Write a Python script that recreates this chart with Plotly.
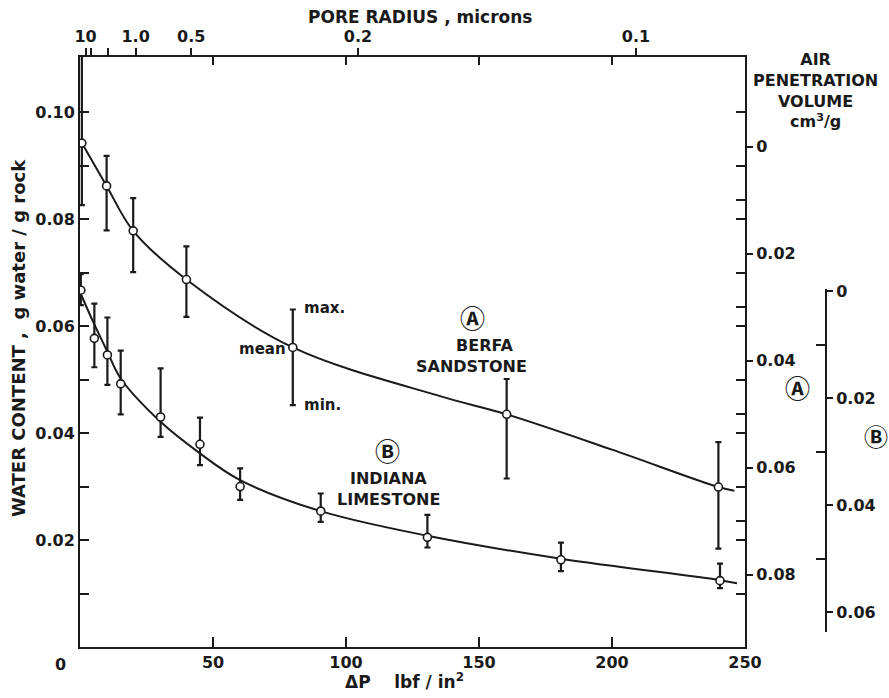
import plotly.graph_objects as go

# ---------------- data ----------------
# Berea sandstone (A): pressure difference, mean / max / min water content
dp_A = [0.7, 10, 20, 40, 80, 160.4, 240]
mean_A = [0.0942, 0.0862, 0.0778, 0.0687, 0.0560, 0.0435, 0.0299]
max_A = [0.1180, 0.0918, 0.0839, 0.0749, 0.0631, 0.0501, 0.0383]
min_A = [0.0826, 0.0779, 0.0701, 0.0617, 0.0452, 0.0315, 0.0184]

# Indiana limestone (B)
dp_B = [0.3, 5.4, 10.3, 15.3, 30.3, 45.1, 60.2, 90.5, 130.6, 180.8, 240.6]
mean_B = [0.0667, 0.0577, 0.0546, 0.0492, 0.0430, 0.0379, 0.0300, 0.0254, 0.0205, 0.0163, 0.0124]
max_B = [0.0697, 0.0642, 0.0616, 0.0554, 0.0521, 0.0429, 0.0334, 0.0287, 0.0247, 0.0195, 0.0156]
min_B = [0.0639, 0.0523, 0.0490, 0.0435, 0.0393, 0.0340, 0.0275, 0.0234, 0.0186, 0.0142, 0.0110]

# hand-drawn smooth curves
curveA_dp = [0.7, 10, 20, 40, 80, 136, 160.4, 200, 240, 246]
curveA_w = [0.0942, 0.0862, 0.0778, 0.0687, 0.0560, 0.0468, 0.0435, 0.0369, 0.0299, 0.0292]
curveB_dp = [0.3, 5.4, 10.3, 15.3, 30.3, 45.1, 60.2, 90.5, 130.6, 180.8, 240.6, 247]
curveB_w = [0.0660, 0.0603, 0.0552, 0.0502, 0.0421, 0.0362, 0.0312, 0.0254, 0.0208, 0.0165, 0.0125, 0.0119]

# axis ticks
x_ticks = [50, 100, 150, 200, 250]
x_tick_text = ["50", "100", "150", "200", "250"]
w_ticks = [0.02, 0.04, 0.06, 0.08, 0.10]
w_tick_text = ["0.02", "0.04", "0.06", "0.08", "0.10"]
w_minor = [0.01, 0.03, 0.05, 0.07, 0.09]
pore_radius = [10, 5, 2, 1.0, 0.5, 0.2, 0.1]          # microns
pore_text = ["10", "", "", "1.0", "0.5", "0.2", "0.1"]
washburn_k = 20.9                                      # r[micron] = k / dP[psi]
air_A_ticks = [0, 0.02, 0.04, 0.06, 0.08]
air_A_text = ["0", "0.02", "0.04", "0.06", "0.08"]
air_A_minor = [0.01, 0.03, 0.05, 0.07]
air_A_zero = 0.0935        # water content where air volume A = 0
air_B_ticks = [0, 0.02, 0.04, 0.06]
air_B_text = ["0", "0.02", "0.04", "0.06"]
air_B_minor = [0.01, 0.03, 0.05]
air_B_zero = 0.0665        # water content where air volume B = 0

# ---------------- layout constants ----------------
W, H = 889, 698
L, R, T, B = 80, 0, 57, 51
PLOT_RIGHT = 745          # pixel of the right frame
B_AXIS_X = 826            # pixel of the separate B scale
XMAX = 250
YMAX = 0.1103
FONT = "DejaVu Sans, Noto Sans CJK SC, sans-serif"
CIRCLE_FONT = "Noto Sans CJK SC, DejaVu Sans, sans-serif"
INK = "#1a1a1a"

pw, ph = W - L - R, H - T - B


def px(x):
    return (x - L) / pw


def py(y):
    return (H - B - y) / ph


fig = go.Figure()

err_style = dict(type="data", symmetric=False, color=INK, thickness=2.2, width=3)
marker_style = dict(symbol="circle", size=8, color="white", line=dict(color=INK, width=1.6))

# curves
fig.add_trace(go.Scatter(x=curveA_dp, y=curveA_w, mode="lines", line=dict(color=INK, width=2, shape="spline"),
                         hoverinfo="skip", showlegend=False))
fig.add_trace(go.Scatter(x=curveB_dp, y=curveB_w, mode="lines", line=dict(color=INK, width=2, shape="spline"),
                         hoverinfo="skip", showlegend=False))
# points with max/min bars
fig.add_trace(go.Scatter(
    x=dp_A, y=mean_A, mode="markers", marker=marker_style, showlegend=False,
    error_y=dict(array=[mx - m for mx, m in zip(max_A, mean_A)],
                 arrayminus=[m - mn for m, mn in zip(mean_A, min_A)], **err_style)))
fig.add_trace(go.Scatter(
    x=dp_B, y=mean_B, mode="markers", marker=marker_style, showlegend=False,
    error_y=dict(array=[mx - m for mx, m in zip(max_B, mean_B)],
                 arrayminus=[m - mn for m, mn in zip(mean_B, min_B)], **err_style)))

# dummy traces so the extra axes are drawn
fig.add_trace(go.Scatter(x=[None], y=[None], xaxis="x2", yaxis="y", showlegend=False, hoverinfo="skip"))
fig.add_trace(go.Scatter(x=[None], y=[None], xaxis="x", yaxis="y2", showlegend=False, hoverinfo="skip"))
fig.add_trace(go.Scatter(x=[None], y=[None], xaxis="x", yaxis="y3", showlegend=False, hoverinfo="skip"))

tickfont = dict(family=FONT, size=16, color=INK, weight="bold")

x_dom = [0, px(PLOT_RIGHT)]
b_dom = [py(632), py(289)]

fig.update_layout(
    width=W, height=H, autosize=False,
    margin=dict(l=L, r=R, t=T, b=B, pad=0),
    paper_bgcolor="white", plot_bgcolor="rgba(0,0,0,0)",
    font=dict(family=FONT, color=INK),
    xaxis=dict(domain=x_dom, range=[0, XMAX], tickmode="array", tickvals=x_ticks, ticktext=x_tick_text,
               ticks="inside", ticklen=10, tickwidth=2, tickcolor=INK,
               showline=True, linewidth=2, linecolor=INK, showgrid=False, zeroline=False,
               tickfont=tickfont, anchor="y", automargin=False),
    xaxis2=dict(domain=x_dom, range=[0, XMAX], overlaying="x", side="top", anchor="y",
                tickmode="array", tickvals=[washburn_k / r for r in pore_radius], ticktext=pore_text,
                ticks="outside", ticklen=7, tickwidth=1.8, tickcolor=INK,
                minor=dict(tickmode="array", tickvals=[50, 100, 150, 200], ticks="inside",
                           ticklen=8, tickwidth=1.8, tickcolor=INK),
                showline=True, linewidth=2, linecolor=INK, showgrid=False, zeroline=False,
                tickfont=tickfont, automargin=False),
    yaxis=dict(range=[0, YMAX], tickmode="array", tickvals=w_ticks, ticktext=w_tick_text,
               ticks="inside", ticklen=9, tickwidth=2, tickcolor=INK,
               minor=dict(tickmode="array", tickvals=w_minor, ticks="inside",
                          ticklen=9, tickwidth=2, tickcolor=INK),
               showline=True, linewidth=2, linecolor=INK, showgrid=False, zeroline=False,
               tickfont=tickfont, anchor="x", automargin=False),
    yaxis2=dict(range=[air_A_zero, air_A_zero - YMAX], overlaying="y", side="right", anchor="x",
                tickmode="array", tickvals=air_A_ticks, ticktext=air_A_text,
                ticks="outside", ticklen=6, tickwidth=2, tickcolor=INK,
                minor=dict(tickmode="array",
                           tickvals=air_A_minor + [air_A_zero - v for v in w_ticks + w_minor],
                           ticks="inside", ticklen=9, tickwidth=2, tickcolor=INK),
                showline=True, linewidth=2, linecolor=INK, showgrid=False, zeroline=False,
                tickfont=tickfont, automargin=False),
    yaxis3=dict(domain=b_dom,
                range=[air_B_zero - b_dom[0] * YMAX, air_B_zero - b_dom[1] * YMAX],
                anchor="free", position=px(B_AXIS_X), side="right",
                tickmode="array", tickvals=air_B_ticks, ticktext=air_B_text,
                ticks="outside", ticklen=6, tickwidth=2, tickcolor=INK,
                minor=dict(tickmode="array", tickvals=air_B_minor, ticks="inside",
                           ticklen=9, tickwidth=2, tickcolor=INK),
                showline=True, linewidth=2, linecolor=INK, showgrid=False, zeroline=False,
                tickfont=tickfont, automargin=False),
    showlegend=False,
)


def note(text, x, y, size=16, xanchor="center", yanchor="middle", angle=0, weight="normal", family=FONT):
    fig.add_annotation(text=text, x=px(x), y=py(y), xref="paper", yref="paper",
                       showarrow=False, xanchor=xanchor, yanchor=yanchor, textangle=angle,
                       font=dict(family=family, size=size, color=INK, weight=weight))


note("PORE RADIUS , microns", 420, 17, size=17, weight="bold")
note("ΔP    lbf / in<sup>2</sup>", 404, 694, size=17, yanchor="bottom", weight="bold")
note("WATER CONTENT ,  g water / g rock", 18, 338, size=18, angle=-90, weight="bold")
note("AIR<br>PENETRATION<br>VOLUME<br>cm<sup>3</sup>/g", 815, 48, size=16, yanchor="top", weight="bold")
note("0", 60, 664, size=16, weight="bold")
note("Ⓐ", 797, 387, size=25, weight="bold", family=CIRCLE_FONT)
note("Ⓑ", 876, 435, size=24, weight="bold", family=CIRCLE_FONT)
note("Ⓐ", 472, 317, size=25, weight="bold", family=CIRCLE_FONT)
note("BERFA", 485, 345, size=16, weight="bold")
note("SANDSTONE", 471, 366, size=16, weight="bold")
note("Ⓑ", 387, 450, size=25, weight="bold", family=CIRCLE_FONT)
note("INDIANA", 388, 478, size=16, weight="bold")
note("LIMESTONE", 388, 499, size=16, weight="bold")
note("max.", 302, 308, size=15, xanchor="left", weight="bold")
note("mean", 288, 349, size=15, xanchor="right", weight="bold")
note("min.", 302, 405, size=15, xanchor="left", weight="bold")

fig.write_html(
    "out.html",
    config={"displayModeBar": False, "responsive": False},
    post_script=("document.body.style.margin='0';"
                 "document.body.style.overflow='hidden';"
                 "document.documentElement.style.overflow='hidden';"),
)
